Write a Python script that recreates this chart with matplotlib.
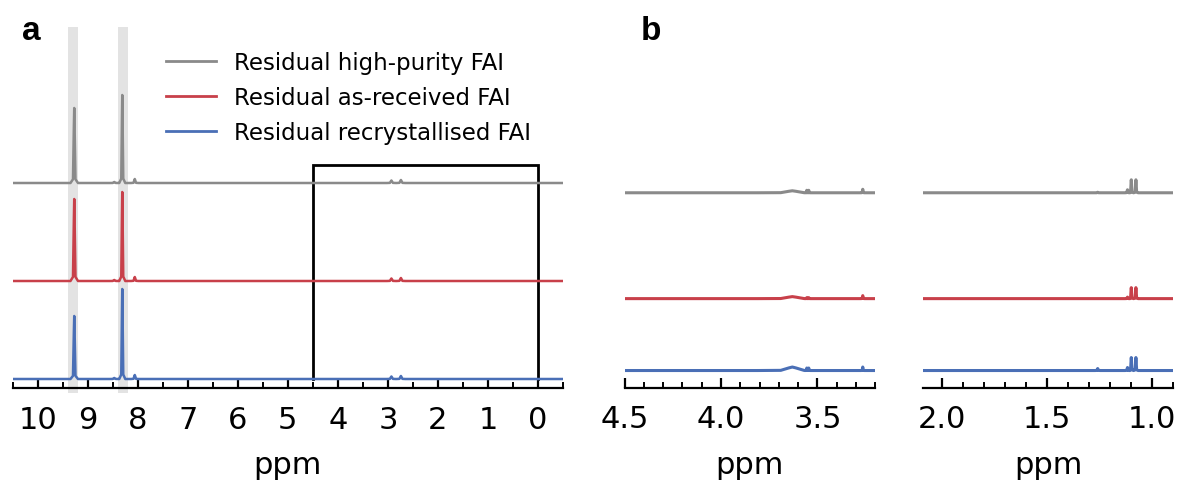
import matplotlib
matplotlib.use("Agg")
import matplotlib.pyplot as plt
from matplotlib.lines import Line2D
from matplotlib.patches import Rectangle
import matplotlib.transforms as mtransforms
from matplotlib.ticker import MultipleLocator, FormatStrFormatter

# ---------------- data ----------------
series_names = ["Residual high-purity FAI", "Residual as-received FAI", "Residual recrystallised FAI"]
series_colors = ["#8a8a8a", "#c8404a", "#4a6fb6"]

# panel a: vertical offsets of each trace (arbitrary units, axis 0..361)
offsets_a = [205, 107, 9]
# peak positions (ppm) and half widths (ppm) for panel a
peaks_a_pos = [9.27, 8.31, 8.47, 8.06, 2.93, 2.74]
peaks_a_w = [0.025, 0.02, 0.03, 0.025, 0.03, 0.03]
peaks_a_h = [
    [75, 88, 1, 4, 2.5, 3],   # high-purity
    [82, 89, 1, 4, 2.5, 3],   # as-received
    [63, 90, 1, 4, 2.5, 3],   # recrystallised
]
highlight_bands = [(9.40, 9.20), (8.40, 8.19)]
zoom_box = (4.5, 0.0, 223)  # ppm from, ppm to, top (axis units)

# panel b: offsets
offsets_b = [195, 89, 17]
# left window (4.5 - 3.2 ppm)
peaks_b1_pos = [3.63, 3.555, 3.545, 3.265]
peaks_b1_w = [0.06, 0.003, 0.003, 0.003]
peaks_b1_h = [
    [2.0, 2.5, 2.5, 3.5],
    [2.0, 1.0, 1.0, 3.0],
    [3.5, 2.5, 2.5, 3.5],
]
# right window (2.09 - 0.9 ppm)
peaks_b2_pos = [1.26, 1.118, 1.100, 1.078]
peaks_b2_w = [0.004, 0.004, 0.0035, 0.0035]
peaks_b2_h = [
    [0.5, 3, 13, 13],
    [0.0, 1.5, 11, 11],
    [2.0, 3, 13, 13],
]
xlim_a = (10.5, -0.5)
xlim_b1 = (4.5, 3.2)
xlim_b2 = (2.09, 0.9)


def trace(xlim, pos, widths, heights, offset):
    """Polyline vertices through the read-off peak positions/heights."""
    pts = [(xlim[0], 0.0), (xlim[1], 0.0)]
    for p, w, h in zip(pos, widths, heights):
        pts += [(p + 3 * w, 0.0), (p + w, 0.05 * h), (p + 0.3 * w, 0.75 * h), (p, h),
                (p - 0.3 * w, 0.75 * h), (p - w, 0.05 * h), (p - 3 * w, 0.0)]
    pts.sort(key=lambda t: -t[0])
    xs = [t[0] for t in pts]
    ys = [t[1] + offset for t in pts]
    return xs, ys


W, H = 1181, 481
fig = plt.figure(figsize=(W / 100, H / 100), dpi=100)


def fax(x0, x1, y0, y1):
    return fig.add_axes([x0 / W, 1 - y1 / H, (x1 - x0) / W, (y1 - y0) / H])


def style(ax, major, minor, fmt):
    for s in ("top", "left", "right"):
        ax.spines[s].set_visible(False)
    ax.spines["bottom"].set_linewidth(1.6)
    ax.set_yticks([])
    ax.xaxis.set_major_locator(MultipleLocator(major))
    ax.xaxis.set_minor_locator(MultipleLocator(minor))
    ax.xaxis.set_major_formatter(FormatStrFormatter(fmt))
    ax.tick_params(axis="x", which="major", direction="in", length=7, width=1.6,
                   labelsize=22, pad=12)
    ax.tick_params(axis="x", which="minor", direction="in", length=4, width=1.4)
    ax.set_xlabel("ppm", fontsize=22, labelpad=12)
    ax.set_ylim(0, 361)
    ax.patch.set_alpha(0)


# ---- panel a ----
axa = fax(12.7, 563, 28, 389)
axa.set_xlim(*xlim_a)
style(axa, 1, 0.5, "%d")
trans = mtransforms.blended_transform_factory(axa.transData, axa.transAxes)
for lo, hi in highlight_bands:
    axa.add_patch(Rectangle((hi, -0.015), lo - hi, 1.015, transform=trans,
                            facecolor="#e3e3e3", edgecolor="none", clip_on=False, zorder=0))
for i in range(3):
    xs, ys = trace(xlim_a, peaks_a_pos, peaks_a_w, peaks_a_h[i], offsets_a[i])
    axa.plot(xs, ys, color=series_colors[i], lw=1.8, zorder=3)
x0, x1, top = zoom_box
axa.plot([x0, x0, x1, x1], [offsets_a[2], top, top, offsets_a[2]],
         color="black", lw=2.0, zorder=2, solid_joinstyle="miter")

handles = [Line2D([], [], color=c, lw=2) for c in series_colors]
fig.legend(handles, series_names, loc="upper left", frameon=False,
           bbox_to_anchor=(166 / W, 1 - 52 / H), borderaxespad=0, borderpad=0,
           fontsize=16.5, handlelength=2.18, handletextpad=0.78, labelspacing=0.53)

fig.text(22 / W, 1 - 40 / H, "a", fontsize=24, fontweight="bold", family="Liberation Sans")
fig.text(641 / W, 1 - 40 / H, "b", fontsize=24, fontweight="bold", family="Liberation Sans")

# ---- panel b ----
axb1 = fax(624.5, 875.3, 28, 388.5)
axb1.set_xlim(*xlim_b1)
style(axb1, 0.5, 0.1, "%.1f")
for i in range(3):
    xs, ys = trace(xlim_b1, peaks_b1_pos, peaks_b1_w, peaks_b1_h[i], offsets_b[i])
    axb1.plot(xs, ys, color=series_colors[i], lw=2.2)

axb2 = fax(923.3, 1173.3, 28, 388.5)
axb2.set_xlim(*xlim_b2)
style(axb2, 0.5, 0.1, "%.1f")
for i in range(3):
    xs, ys = trace(xlim_b2, peaks_b2_pos, peaks_b2_w, peaks_b2_h[i], offsets_b[i])
    axb2.plot(xs, ys, color=series_colors[i], lw=2.2)

fig.savefig("out.png", dpi=100)
